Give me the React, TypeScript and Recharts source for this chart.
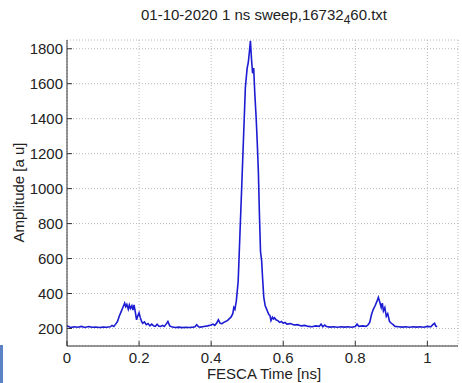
import React from 'react';
import { LineChart, Line, XAxis, YAxis, CartesianGrid } from 'recharts';

// time [ns]
const times = [
  0, 0.005, 0.01, 0.02, 0.03, 0.04, 0.05, 0.06, 0.07, 0.08, 0.09, 0.1, 0.11, 0.12, 0.125, 0.13,
  0.135, 0.14, 0.145, 0.15, 0.155, 0.16, 0.163, 0.166, 0.17, 0.173, 0.176, 0.18, 0.183, 0.186,
  0.19, 0.193, 0.196, 0.2, 0.203, 0.207, 0.21, 0.215, 0.22, 0.225, 0.23, 0.235, 0.24, 0.245,
  0.25, 0.255, 0.26, 0.265, 0.27, 0.275, 0.28, 0.285, 0.29, 0.3, 0.31, 0.32, 0.33, 0.34, 0.35,
  0.355, 0.36, 0.365, 0.37, 0.38, 0.39, 0.4, 0.405, 0.41, 0.415, 0.42, 0.425, 0.43, 0.435, 0.44,
  0.445, 0.45, 0.455, 0.46, 0.463, 0.466, 0.47, 0.475, 0.48, 0.485, 0.49, 0.495, 0.5, 0.503,
  0.506, 0.509, 0.512, 0.515, 0.518, 0.521, 0.525, 0.528, 0.531, 0.534, 0.537, 0.54, 0.543,
  0.546, 0.55, 0.553, 0.556, 0.56, 0.563, 0.566, 0.57, 0.573, 0.576, 0.58, 0.585, 0.59, 0.595,
  0.6, 0.605, 0.61, 0.62, 0.63, 0.64, 0.65, 0.66, 0.67, 0.68, 0.69, 0.7, 0.705, 0.71, 0.715,
  0.72, 0.73, 0.74, 0.75, 0.76, 0.77, 0.78, 0.79, 0.8, 0.805, 0.81, 0.82, 0.83, 0.835, 0.84,
  0.845, 0.85, 0.855, 0.86, 0.864, 0.868, 0.872, 0.875, 0.878, 0.882, 0.886, 0.89, 0.895, 0.9,
  0.905, 0.91, 0.92, 0.93, 0.94, 0.95, 0.96, 0.97, 0.98, 0.99, 1.0, 1.01, 1.015, 1.02, 1.023, 1.027,
];

// amplitude [a u]
const amplitude = [
  214, 212, 205, 210, 207, 212, 206, 211, 207, 209, 206, 208, 207, 210, 218, 212,
  225, 240, 270, 295, 320, 345, 325, 338, 310, 335, 315, 330, 305, 335,
  290, 250, 270, 290, 265, 240, 230, 238, 222, 228, 215, 225, 215, 212,
  225, 213, 212, 218, 212, 225, 240, 215, 210, 206, 208, 205, 207, 206, 208,
  210, 222, 210, 208, 212, 215, 220, 225, 218, 230, 250, 230, 228, 235, 240,
  245, 255, 265, 285, 320, 310, 360, 470, 745, 1020, 1300, 1580, 1690, 1720,
  1780, 1845, 1740, 1660, 1690, 1550, 1400, 1260, 1100, 850, 640, 590, 480,
  380, 330, 315, 300, 280, 275, 245, 265, 255, 262, 250, 245, 235, 240,
  230, 235, 225, 228, 220, 222, 215, 218, 212, 210, 215, 212, 225, 210, 220,
  212, 208, 210, 207, 210, 208, 210, 207, 212, 225, 212, 215, 212, 220, 235,
  280, 310, 330, 355, 378, 350, 320, 345, 300, 320, 270, 285, 240, 230,
  222, 212, 210, 208, 210, 207, 210, 208, 210, 207, 212, 210, 222, 230, 215, 210,
];

const xTicks = [0, 0.2, 0.4, 0.6, 0.8, 1];
const yTicks = [200, 400, 600, 800, 1000, 1200, 1400, 1600, 1800];

const data = times.map((t, i) => ({ t, v: amplitude[i] }));

const font = '"Liberation Sans", Arial, sans-serif';
const tickStyle = { fill: '#222', fontSize: 15, fontFamily: font };

export default function App() {
  return (
    <div style={{ position: 'absolute', left: 0, top: 0, width: 462, height: 383, background: '#fff', fontFamily: font, color: '#222' }}>
      <div style={{ position: 'absolute', left: 0, width: 528, top: 6, textAlign: 'center', fontSize: 15 }}>
        01-10-2020 1 ns sweep,16732<sub style={{ fontSize: 12 }}>4</sub>60.txt
      </div>
      <LineChart width={462} height={383} data={data} margin={{ top: 40, right: 4, bottom: 17, left: 17 }}>
        <CartesianGrid stroke="#b8b8b8" strokeDasharray="1 2" />
        <XAxis
          dataKey="t"
          type="number"
          domain={[0, 1.085]}
          ticks={xTicks}
          height={20}
          tickSize={-5}
          tickMargin={11}
          stroke="#333"
          tick={tickStyle}
          allowDataOverflow
        />
        <XAxis xAxisId="top" dataKey="t" type="number" orientation="top" domain={[0, 1.085]} ticks={xTicks} height={0} tickSize={-5} tick={false} stroke="#333" allowDataOverflow />
        <YAxis
          type="number"
          domain={[100, 1850]}
          ticks={yTicks}
          width={50}
          tickSize={-5}
          tickMargin={9}
          stroke="#333"
          tick={tickStyle}
          allowDataOverflow
        />
        <YAxis yAxisId="right" type="number" orientation="right" domain={[100, 1850]} ticks={yTicks} width={0} tickSize={-5} tick={false} stroke="#333" allowDataOverflow />
        <Line type="linear" dataKey="v" stroke="#1c1cd2" strokeWidth={1.6} dot={false} isAnimationActive={false} />
      </LineChart>
      <div style={{ position: 'absolute', left: 0, width: 528, top: 366, lineHeight: '15px', textAlign: 'center', fontSize: 15 }}>FESCA Time [ns]</div>
      <div style={{ position: 'absolute', left: -82, width: 200, top: 184, textAlign: 'center', fontSize: 15, transform: 'rotate(-90deg)' }}>
        Amplitude [a u]
      </div>
      <div style={{ position: 'absolute', left: 0, top: 345, width: 3, height: 38, background: '#5b82c4' }} />
    </div>
  );
}
